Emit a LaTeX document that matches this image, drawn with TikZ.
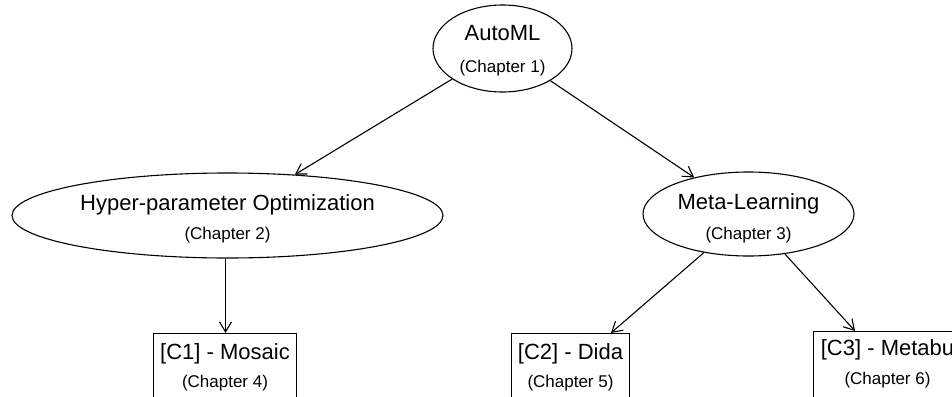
\documentclass[tikz,border=0pt]{standalone}
\usepackage{fontspec}
\setmainfont{Liberation Sans}
\usetikzlibrary{arrows.meta,shapes.geometric}
\begin{document}
\begin{tikzpicture}[x=1pt,y=-1pt,
  outline/.style={draw=black,line width=1.1pt,inner sep=0pt},
  topic/.style={outline,ellipse},
  work/.style={outline,rectangle},
  title/.style={font=\fontsize{22}{26}\selectfont,inner sep=0pt,text height=15.8pt,text depth=0pt},
  sub/.style={font=\fontsize{17}{20}\selectfont,inner sep=0pt,text height=12.4pt,text depth=3.6pt},
  link/.style={line width=1.1pt,-{Straight Barb[length=10pt,width=12pt]}}]
\useasboundingbox (0,0) rectangle (952,396);
\clip (0,0) rectangle (952,396);

% research areas
\node[topic,minimum width=139pt,minimum height=87pt] (auto) at (502.5,48.5) {};
\node[title] (auto-t) at (502.5,33) {AutoML};
\node[sub] (auto-c) at (502.5,68) {(Chapter 1)};

\node[topic,minimum width=431pt,minimum height=85pt] (hpo) at (227.5,215.5) {};
\node[title] (hpo-t) at (227.5,203) {Hyper-parameter Optimization};
\node[sub] (hpo-c) at (227.5,235) {(Chapter 2)};

\node[topic,minimum width=211pt,minimum height=84pt] (ml) at (748.5,214) {};
\node[title] (ml-t) at (748.5,202) {Meta-Learning};
\node[sub] (ml-c) at (748.5,235) {(Chapter 3)};

% contributions (boxes run past the lower and right edges)
\node[work,minimum width=143pt,minimum height=96pt] (c1) at (225,381.5) {};
\node[title] (c1-t) at (225,352) {[C1] - Mosaic};
\node[sub] (c1-c) at (225,383) {(Chapter 4)};

\node[work,minimum width=118pt,minimum height=96pt] (c2) at (570.5,381.5) {};
\node[title] (c2-t) at (570.5,352) {[C2] - Dida};
\node[sub] (c2-c) at (570.5,383) {(Chapter 5)};

\node[work,minimum width=148pt,minimum height=98pt] (c3) at (887.5,380.5) {};
\node[title] (c3-t) at (887.5,348) {[C3] - Metabu};
\node[sub] (c3-c) at (887.5,380) {(Chapter 6)};

% links
\coordinate (c1-in) at ([xshift=0.5pt]c1.north);
\draw[link] (auto) -- (hpo);
\draw[link] (auto) -- (ml);
\draw[link] (c1-in |- hpo.south) -- (c1-in);
\draw[link] (ml) -- ([xshift=40.5pt]c2.north);
\draw[link] (ml) -- ([xshift=-32.5pt]c3.north);
\end{tikzpicture}
\end{document}
